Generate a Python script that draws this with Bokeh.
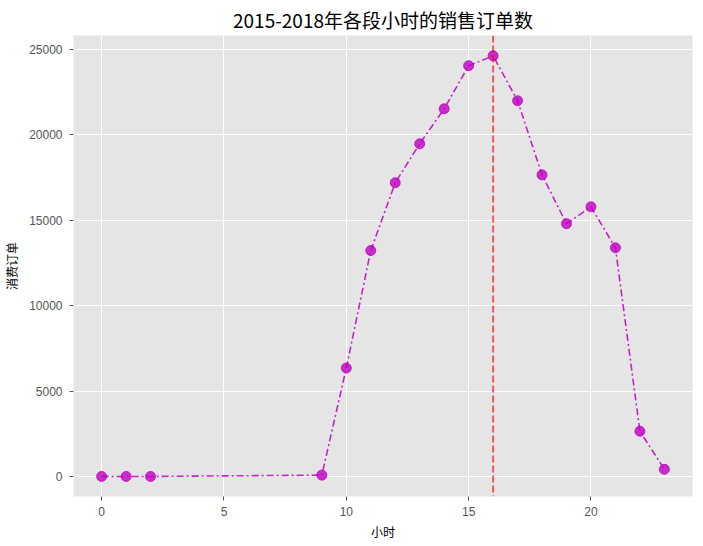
from bokeh.plotting import figure
from bokeh.models import Span, FixedTicker, ColumnDataSource, Range1d
from bokeh.embed import file_html
from bokeh.resources import INLINE

# data
hours = [0, 1, 2, 9, 10, 11, 12, 13, 14, 15, 16, 17, 18, 19, 20, 21, 22, 23]
orders = [5, 3, 2, 80, 6350, 13230, 17200, 19480, 21530, 24050, 24630,
          22000, 17660, 14800, 15790, 13390, 2650, 420]
peak_hour = 16
x_ticks = [0, 5, 10, 15, 20]
y_ticks = [0, 5000, 10000, 15000, 20000, 25000]
title_text = "2015-2018年各段小时的销售订单数"
x_label = "小时"
y_label = "消费订单"

CJK = "Noto Sans CJK SC"
TICKF = "Liberation Sans"

p = figure(
    frame_width=619, frame_height=461,
    min_border_left=66, min_border_right=2, min_border_top=33, min_border_bottom=34,
    output_backend="svg", toolbar_location=None,
    x_range=Range1d(-1.15, 24.15), y_range=Range1d(-1171, 25820),
    title=title_text,
)
p.background_fill_color = "#E5E5E5"
p.border_fill_color = "white"
p.outline_line_color = None

p.title.text_font = CJK
p.title.text_font_size = "19px"
p.title.text_font_style = "normal"
p.title.text_color = "black"
p.title.align = "center"
p.title.offset = 0
p.title.standoff = 6

p.grid.grid_line_color = "white"
p.grid.grid_line_width = 1
p.xgrid.ticker = FixedTicker(ticks=x_ticks)
p.ygrid.ticker = FixedTicker(ticks=y_ticks)
p.xaxis.ticker = FixedTicker(ticks=x_ticks)
p.yaxis.ticker = FixedTicker(ticks=y_ticks)

for ax in (p.xaxis, p.yaxis):
    ax.axis_line_color = None
    ax.major_tick_line_color = "#555555"
    ax.major_tick_out = 4
    ax.major_tick_in = 0
    ax.minor_tick_line_color = None
    ax.major_label_text_font = TICKF
    ax.major_label_text_font_size = "12px"
    ax.major_label_text_color = "#555555"
    ax.axis_label_text_font = CJK
    ax.axis_label_text_font_size = "12px"
    ax.axis_label_text_font_style = "normal"
    ax.axis_label_text_color = "black"

p.xaxis.axis_label = x_label
p.yaxis.axis_label = y_label
p.xaxis.major_label_standoff = 6
p.yaxis.major_label_standoff = 7
p.xaxis.axis_label_standoff = 4
p.yaxis.axis_label_standoff = 6

src = ColumnDataSource(dict(x=hours, y=orders))
p.line("x", "y", source=src, line_color="#bf00bf", line_width=1.6,
       line_dash="7 3 2 3", line_alpha=0.85)
p.scatter("x", "y", source=src, size=10, fill_color="#bf00bf",
          line_color="#bf00bf", fill_alpha=0.8, line_alpha=0.8)

vline = Span(location=peak_hour, dimension="height", line_color="red",
             line_alpha=0.62, line_width=2, line_dash="7 3")
p.add_layout(vline)

open("out.html", "w").write(file_html(p, INLINE))
